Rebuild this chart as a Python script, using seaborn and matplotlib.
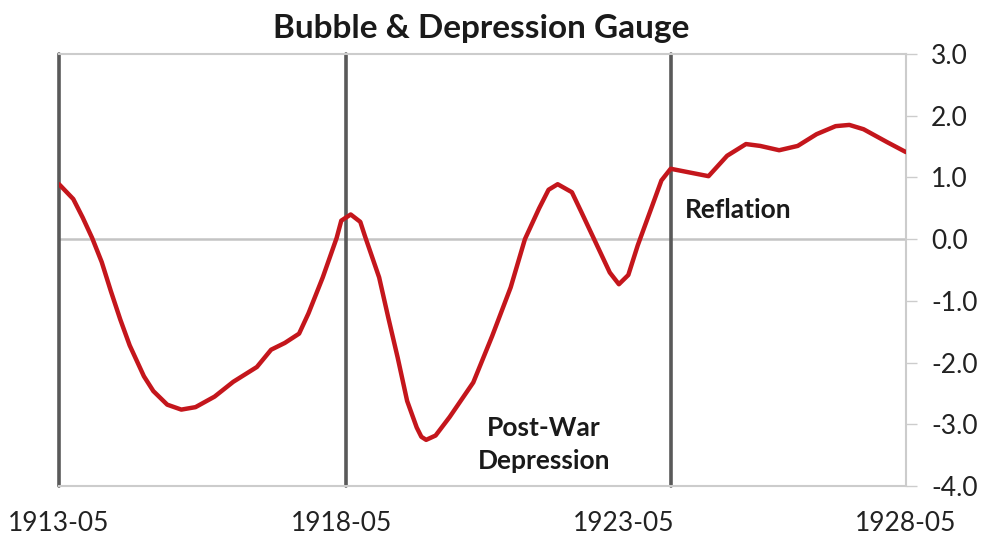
import pandas as pd
import matplotlib.pyplot as plt
import matplotlib.dates as mdates
import seaborn as sns

# values
dates = [
    '1913-05', '1913-08', '1913-10', '1913-12', '1914-02', '1914-04',
    '1914-06', '1914-08', '1914-11', '1915-01', '1915-04', '1915-07',
    '1915-10', '1916-02', '1916-06', '1916-11', '1917-02', '1917-05',
    '1917-08', '1917-10', '1918-01', '1918-04', '1918-05', '1918-07',
    '1918-09', '1918-10', '1919-01', '1919-03', '1919-05', '1919-07',
    '1919-09', '1919-10', '1919-11', '1920-01', '1920-04', '1920-09',
    '1921-01', '1921-05', '1921-08', '1921-11', '1922-01', '1922-03',
    '1922-06', '1922-08', '1922-11', '1923-02', '1923-04', '1923-06',
    '1923-08', '1923-11', '1924-01', '1924-03', '1924-07', '1924-11',
    '1925-03', '1925-07', '1925-10', '1926-02', '1926-06', '1926-10',
    '1927-02', '1927-05', '1927-08', '1928-01', '1928-05']
gauge = [
    0.89, 0.65, 0.35, 0.02, -0.37, -0.84,
    -1.3, -1.72, -2.22, -2.46, -2.68, -2.76,
    -2.72, -2.55, -2.31, -2.07, -1.79, -1.68,
    -1.53, -1.2, -0.62, 0.02, 0.3, 0.4,
    0.28, 0.05, -0.62, -1.27, -1.92, -2.62,
    -3.05, -3.2, -3.25, -3.18, -2.88, -2.32,
    -1.57, -0.78, 0.0, 0.5, 0.8, 0.89,
    0.76, 0.44, -0.05, -0.54, -0.73, -0.58,
    -0.1, 0.53, 0.95, 1.14, 1.08, 1.02,
    1.35, 1.54, 1.51, 1.44, 1.51, 1.7,
    1.83, 1.85, 1.78, 1.57, 1.41]

period_marks = ['1913-05', '1918-06', '1924-03']
tick_dates = ['1913-05', '1918-05', '1923-05', '1928-05']
y_ticks = [3, 2, 1, 0, -1, -2, -3, -4]

df = pd.DataFrame({'date': pd.to_datetime(dates), 'gauge': gauge})

sns.set_style('white')
plt.rcParams['font.family'] = ['Lato', 'DejaVu Sans']

fig = plt.figure(figsize=(9.89, 5.39), dpi=100)
ax = fig.add_axes([0.0597, 0.098, 0.8563, 0.802])

ax.axhline(0, color='#c4c4c4', lw=1.8, zorder=1)
for d in period_marks:
    ax.axvline(pd.Timestamp(d), color='#595959', lw=2.6, zorder=2,
               clip_on=False)

sns.lineplot(data=df, x='date', y='gauge', color='#c4161c', lw=3.2,
             ax=ax, zorder=3)

ax.set_xlim(pd.Timestamp('1913-05'), pd.Timestamp('1928-05'))
ax.set_ylim(-4, 3)
ax.set_xticks(pd.to_datetime(tick_dates))
ax.xaxis.set_major_formatter(mdates.DateFormatter('%Y-%m'))
ax.set_yticks(y_ticks)
ax.set_yticklabels([f'{v:.1f}' for v in y_ticks])
ax.yaxis.tick_right()
ax.tick_params(axis='y', length=8, color='#cccccc', width=1,
               labelsize=19, pad=10, labelcolor='#222222')
ax.tick_params(axis='x', length=0, labelsize=19, pad=18,
               labelcolor='#222222')
ax.set_xlabel('')
ax.set_ylabel('')

for side in ['top', 'bottom', 'right']:
    ax.spines[side].set_color('#cccccc')
    ax.spines[side].set_linewidth(1.5)
ax.spines['left'].set_visible(False)

ax.text(pd.Timestamp('1921-12'), -3.32, 'Post-War\nDepression',
        ha='center', va='center', fontsize=19, fontweight='bold',
        linespacing=1.45, color='#1a1a1a')
ax.text(pd.Timestamp('1924-06'), 0.47, 'Reflation', ha='left',
        va='center', fontsize=19, fontweight='bold', color='#1a1a1a')

fig.text(0.487, 0.948, 'Bubble & Depression Gauge', ha='center',
         va='center', fontsize=24, fontweight='bold', color='#1a1a1a')

fig.savefig('out.png', dpi=100)
